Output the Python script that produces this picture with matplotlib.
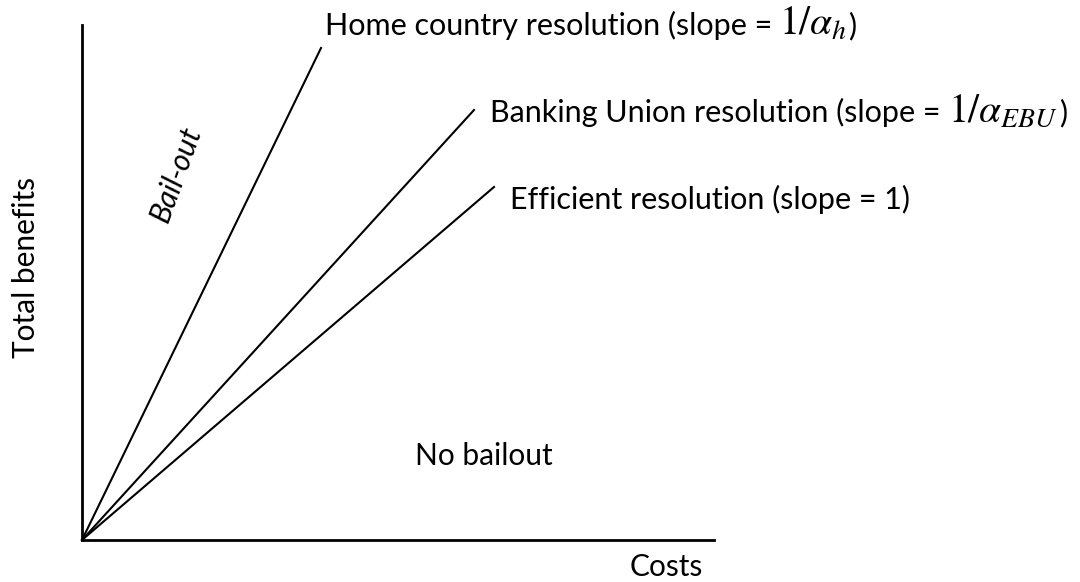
import matplotlib
matplotlib.use("Agg")
import matplotlib.pyplot as plt

# Ray end points (arbitrary units, origin at 0,0)
line_names = ["Home country", "Banking Union", "Efficient"]
x_end = [239, 392, 412]
y_end = [492, 430, 353]

# label = plain text part + math part (math drawn a bit larger, like Cambria Math)
label_text = [
    "Home country resolution (slope =",
    "Banking Union resolution (slope =",
    "Efficient resolution (slope = 1)",
]
label_math = [r"$1/\alpha_h$", r"$1/\alpha_{EBU}$", ""]
label_tail = [")", ")", ""]

plt.rcParams["font.family"] = ["Lato", "DejaVu Sans"]
plt.rcParams["mathtext.fontset"] = "stix"

W, H = 1080, 582
fig = plt.figure(figsize=(W / 100, H / 100), dpi=100)
ax = fig.add_axes([82 / W, 1 - 540 / H, 632 / W, 515 / H])
ax.set_xlim(0, 632)
ax.set_ylim(0, 515)

for xe, ye in zip(x_end, y_end):
    ax.plot([0, xe], [0, ye], color="black", lw=1.5, clip_on=False)

for s in ["top", "right"]:
    ax.spines[s].set_visible(False)
for s in ["left", "bottom"]:
    ax.spines[s].set_linewidth(2)
ax.set_xticks([])
ax.set_yticks([])


def px(x, y):
    return x / W, 1 - y / H


fs = 22
renderer = fig.canvas.get_renderer()
label_pos = [(325, 35), (490, 122), (510, 209)]
for txt, mth, tail, (x, y) in zip(label_text, label_math, label_tail, label_pos):
    t = fig.text(*px(x, y), txt, fontsize=fs, ha="left", va="baseline")
    if not mth:
        continue
    x1 = t.get_window_extent(renderer).x1 / W
    m = fig.text(x1 + 7 / W, 1 - y / H, mth, fontsize=fs * 1.3,
                 ha="left", va="baseline")
    x2 = m.get_window_extent(renderer).x1 / W
    fig.text(x2 + 1 / W, 1 - y / H, tail, fontsize=fs, ha="left", va="baseline")

fs2 = 21.5
fig.text(*px(176, 174), "Bail-out", fontsize=fs2, rotation=70,
         ha="center", va="center", style="italic")
fig.text(*px(415, 456), "No bailout", fontsize=fs2, ha="left", va="center")
fig.text(*px(666, 567), "Costs", fontsize=fs2, ha="center", va="center")
fig.text(*px(26, 268), "Total benefits", fontsize=fs2, rotation=90,
         ha="center", va="center")

fig.savefig("out.png", dpi=100)
